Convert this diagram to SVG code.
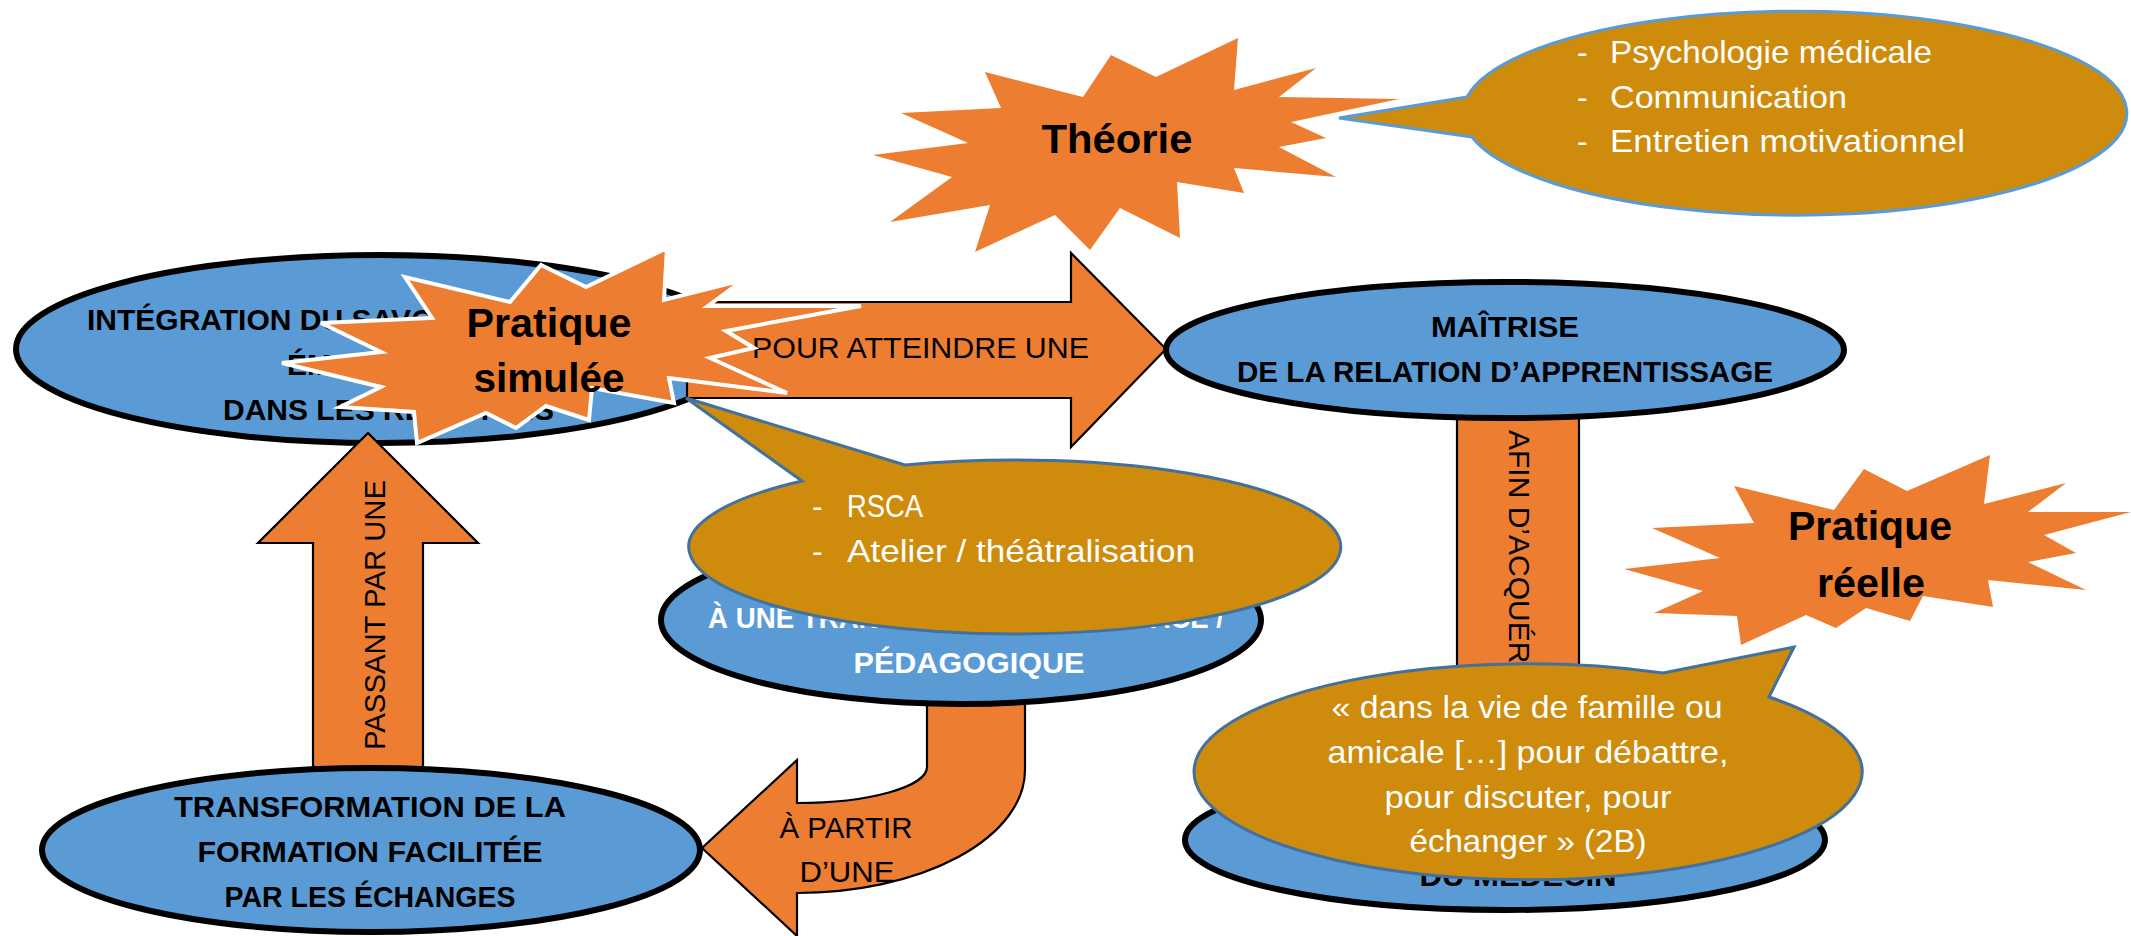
<svg xmlns="http://www.w3.org/2000/svg" width="2131" height="936" viewBox="0 0 2131 936">
<style>
text{font-family:"Liberation Sans",Arial,sans-serif}
.node{fill:#5B9BD5;stroke:#000;stroke-width:6}
.arrow{fill:#ED7D31;stroke:#000;stroke-width:2.2;stroke-linejoin:miter}
.star{fill:#ED7D31}
.starw{fill:#ED7D31;stroke:#fff;stroke-width:4;stroke-linejoin:miter}
.call{fill:#CF8B0B;stroke:#41719C;stroke-width:3}
.callb{fill:#CF8B0B;stroke:#5B9BD5;stroke-width:3}
.nt{font-size:30px;font-weight:bold;fill:#000}
.ntw{font-size:30px;font-weight:bold;fill:#fff}
.lab{font-size:30px;fill:#000}
.ct{font-size:32px;fill:#fff}
.st{font-size:40px;font-weight:bold;fill:#000}
</style>
<rect width="2131" height="936" fill="#fff"/>

<g id="node-integration">
<ellipse class="node" cx="380" cy="349" rx="364" ry="94"/>
<text class="nt" x="87" y="330">INTÉGRATION DU SAVOIR-ÊTRE</text>
<text class="nt" x="287" y="375">ÉMOTIONNEL</text>
<text class="nt" x="223" y="420">DANS LES RELATIONS</text>
</g>

<g id="connectors">
<g id="arrow-atteindre">
<path class="arrow" d="M687,302 L1071,302 L1071,253 L1166,349 L1071,447 L1071,398 L687,398 Z"/>
<text class="lab" x="752" y="358" textLength="337" lengthAdjust="spacingAndGlyphs">POUR ATTEINDRE UNE</text>
</g>
<g id="arrow-passant">
<path class="arrow" d="M368,433 L478,543 L423,543 L423,767 L313,767 L313,543 L258,543 Z"/>
<text class="lab" transform="translate(385,615) rotate(-90)" x="0" y="0" text-anchor="middle" textLength="270" lengthAdjust="spacingAndGlyphs">PASSANT PAR UNE</text>
</g>
<g id="arrow-partir">
<path class="arrow" d="M1025,700 L1025,770 A228,123 0 0 1 797,893 L797,936 L702,848 L797,760 L797,803 A130,36 0 0 0 927,767 L927,700 Z"/>
<text class="lab" x="846" y="838" text-anchor="middle" textLength="133" lengthAdjust="spacingAndGlyphs">À PARTIR</text>
<text class="lab" x="847" y="882" text-anchor="middle" textLength="95" lengthAdjust="spacingAndGlyphs">D’UNE</text>
</g>
<g id="arrow-acquerir">
<rect class="arrow" x="1457" y="410" width="122" height="380"/>
<text class="lab" transform="translate(1509,430) rotate(90)" x="0" y="0">AFIN D’ACQUÉRIR</text>
</g>
</g>

<g id="node-maitrise">
<ellipse class="node" cx="1505" cy="350" rx="339" ry="68"/>
<text class="nt" x="1505" y="337" text-anchor="middle" textLength="148" lengthAdjust="spacingAndGlyphs">MAÎTRISE</text>
<text class="nt" x="1505" y="382" text-anchor="middle" textLength="536" lengthAdjust="spacingAndGlyphs">DE LA RELATION D’APPRENTISSAGE</text>
</g>

<g id="node-transformation">
<ellipse class="node" cx="371" cy="850" rx="329" ry="82"/>
<text class="nt" x="370" y="817" text-anchor="middle" textLength="392" lengthAdjust="spacingAndGlyphs">TRANSFORMATION DE LA</text>
<text class="nt" x="370" y="862" text-anchor="middle" textLength="345" lengthAdjust="spacingAndGlyphs">FORMATION FACILITÉE</text>
<text class="nt" x="370" y="907" text-anchor="middle" textLength="291" lengthAdjust="spacingAndGlyphs">PAR LES ÉCHANGES</text>
</g>

<g id="node-pedagogique">
<ellipse class="node" cx="961" cy="620" rx="300" ry="84" stroke-width="7"/>
<text class="ntw" x="708" y="628" textLength="516" lengthAdjust="spacingAndGlyphs">À UNE TRANSFORMATION EFFICACE /</text>
<text class="ntw" x="969" y="673" text-anchor="middle" textLength="231" lengthAdjust="spacingAndGlyphs">PÉDAGOGIQUE</text>
</g>

<g id="node-medecin">
<ellipse class="node" cx="1505" cy="840" rx="320" ry="70"/>
<text class="nt" x="1518" y="886" text-anchor="middle" textLength="197" lengthAdjust="spacingAndGlyphs">DU MÉDECIN</text>
</g>

<g id="callout-rsca">
<path class="call" d="M905,465 L686,398 L802,481 A326,87 0 1 0 905,465 Z"/>
<text class="ct" x="812" y="517">-</text>
<text class="ct" x="847" y="517" textLength="76" lengthAdjust="spacingAndGlyphs">RSCA</text>
<text class="ct" x="812" y="562">-</text>
<text class="ct" x="847" y="562" textLength="348" lengthAdjust="spacingAndGlyphs">Atelier / théâtralisation</text>
</g>

<g id="star-pratique-simulee">
<polygon class="starw" points="282,363 381,352 321,323 432,318 405,277 510,302 541,265 586,287 667,248 664,300 743,280 708,306 861,306 726,331 754,348 710,358 787,393 669,378 674,403 592,388 589,420 546,406 516,428 486,413 417,443 414,412 340,407 381,387"/>
<text class="st" x="549" y="337" text-anchor="middle" textLength="165" lengthAdjust="spacingAndGlyphs">Pratique</text>
<text class="st" x="549" y="392" text-anchor="middle" textLength="151" lengthAdjust="spacingAndGlyphs">simulée</text>
</g>

<g id="star-theorie">
<polygon class="star" points="985,72 1083,97 1111,55 1156,77 1238,38 1234,90 1316,68 1279,97 1399,99 1291,122 1326,138 1279,147 1336,177 1234,168 1244,193 1177,182 1180,238 1120,208 1090,250 1055,215 975,252 990,205 890,222 952,177 873,155 968,143 901,113 1001,108"/>
<text class="st" x="1117" y="153" text-anchor="middle" textLength="151" lengthAdjust="spacingAndGlyphs">Théorie</text>
</g>

<g id="callout-theorie">
<path class="callb" d="M1467,97 L1339,118 L1472,137 A332,102 0 1 0 1467,97 Z"/>
<text class="ct" x="1577" y="63">-</text>
<text class="ct" x="1610" y="63" textLength="322" lengthAdjust="spacingAndGlyphs">Psychologie médicale</text>
<text class="ct" x="1577" y="108">-</text>
<text class="ct" x="1610" y="108" textLength="237" lengthAdjust="spacingAndGlyphs">Communication</text>
<text class="ct" x="1577" y="152">-</text>
<text class="ct" x="1610" y="152" textLength="355" lengthAdjust="spacingAndGlyphs">Entretien motivationnel</text>
</g>

<g id="star-pratique-reelle">
<polygon class="star" points="1624,569 1720,558 1652,528 1754,523 1734,486 1834,510 1864,469 1907,491 1990,455 1984,504 2066,483 2028,512 2131,512 2044,535 2076,553 2028,562 2086,590 1988,580 1993,607 1923,596 1910,621 1866,608 1836,628 1806,615 1741,645 1737,616 1654,613 1703,591"/>
<text class="st" x="1870" y="540" text-anchor="middle" textLength="164" lengthAdjust="spacingAndGlyphs">Pratique</text>
<text class="st" x="1871" y="597" text-anchor="middle" textLength="108" lengthAdjust="spacingAndGlyphs">réelle</text>
</g>

<g id="callout-reelle">
<path class="call" d="M1663,673 L1794,647 L1769,697 A334,108 0 1 1 1663,673 Z"/>
<text class="ct" x="1527" y="718" text-anchor="middle" textLength="391" lengthAdjust="spacingAndGlyphs">« dans la vie de famille ou</text>
<text class="ct" x="1528" y="763" text-anchor="middle" textLength="401" lengthAdjust="spacingAndGlyphs">amicale […] pour débattre,</text>
<text class="ct" x="1528" y="808" text-anchor="middle" textLength="287" lengthAdjust="spacingAndGlyphs">pour discuter, pour</text>
<text class="ct" x="1528" y="852" text-anchor="middle" textLength="237" lengthAdjust="spacingAndGlyphs">échanger » (2B)</text>
</g>
</svg>
